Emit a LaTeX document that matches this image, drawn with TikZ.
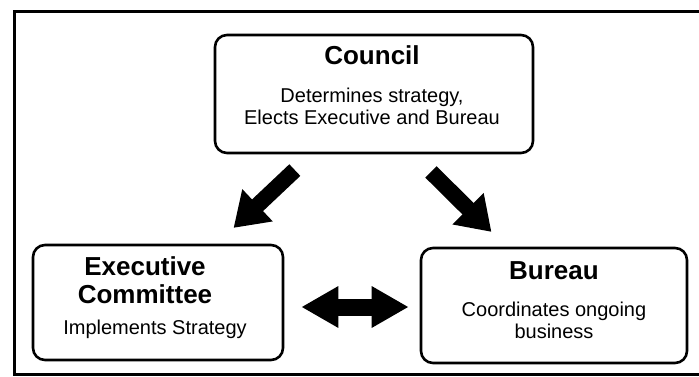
\documentclass[tikz,border=0pt]{standalone}
\usepackage{fontspec}
\setmainfont{Liberation Sans}
\usetikzlibrary{arrows.meta,positioning}
\tikzset{
  orgbox/.style={draw,line width=2.6pt,rounded corners=12pt},
  boxtitle/.style={inner sep=0pt,align=center,font=\fontsize{26}{28}\selectfont\bfseries},
  boxtext/.style={inner sep=0pt,align=center,font=\fontsize{20}{22}\selectfont},
  bigarrow/.style={line width=16pt,-{Triangle[length=33pt,width=42pt]}},
  twoway/.style={line width=17pt,{Triangle[length=37pt,width=39pt]}-{Triangle[length=37pt,width=39pt]}}
}

\begin{document}
\begin{tikzpicture}[x=1pt,y=-1pt]
\useasboundingbox (0,0) rectangle (699,377);
\draw[line width=3pt] (699,12) -- (14,12) -- (14,374) -- (699,374);

\node[orgbox,minimum width=318pt,minimum height=118pt] (council) at (374,94) {};
\node[orgbox,minimum width=250pt,minimum height=115pt] (exec) at (158,302.5) {};
\node[orgbox,minimum width=266pt,minimum height=115pt] (bureau) at (554,305.5) {};

\node[boxtitle,below=12pt of council.north,xshift=-2pt] (counciltitle) {Council};
\node[boxtext,below=23pt of counciltitle] (counciltext) {Determines strategy,\\Elects Executive and Bureau};
\node[boxtitle,below=13pt of exec.north,xshift=-13pt] (exectitle) {Executive\\Committee};
\node[boxtext,below=16pt of exectitle,xshift=10pt] (exectext) {Implements Strategy};
\node[boxtitle,below=15pt of bureau.north] (bureautitle) {Bureau};
\node[boxtext,below=22pt of bureautitle] (bureautext) {Coordinates ongoing\\business};

\draw[bigarrow,shorten <=23pt,shorten >=23pt] (council.224) -- (exec.45);
\draw[bigarrow,shorten <=25pt,shorten >=21pt] (council.-57) -- (bureau.129);
\draw[twoway,shorten <=17pt,shorten >=11pt] ([yshift=-4.5pt]exec.east) -- ([yshift=-1.5pt]bureau.west);
\end{tikzpicture}
\end{document}
